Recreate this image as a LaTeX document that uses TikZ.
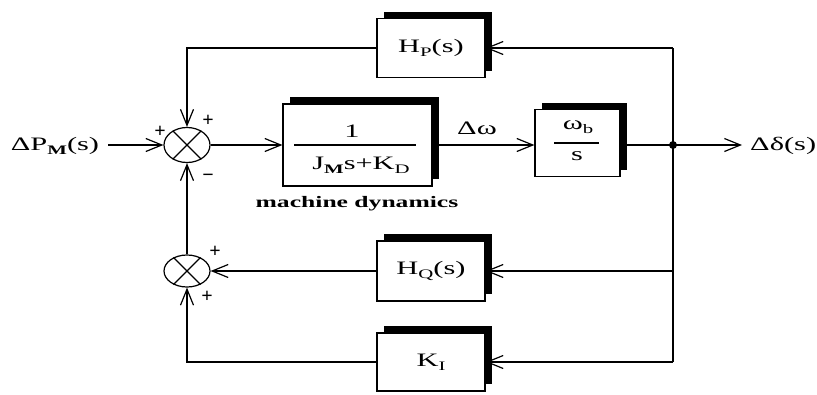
\documentclass[tikz,border=0pt]{standalone}
\usepackage{fontspec}
\setmainfont{Liberation Serif}
\newfontfamily\dfont[FakeStretch=1.6]{Liberation Serif}
\usetikzlibrary{arrows.meta,shapes.geometric,shadows}
\newcommand\mysub[1]{\raisebox{-4pt}{\fontsize{13}{13}\selectfont #1}}
\begin{document}
\begin{tikzpicture}[x=1pt,y=-1pt,
  blk/.style={draw, line width=1.2pt, fill=white, inner sep=0pt,
    drop shadow={shadow xshift=7pt, shadow yshift=7pt, shadow scale=1, fill=black, opacity=1}},
  sumj/.style={draw, ellipse, line width=1.2pt, minimum width=46pt, minimum height=35pt, inner sep=0pt},
  arr/.style={line width=1.2pt, -{Straight Barb[length=16pt,width=13pt,line width=1.2pt]}},
  ln/.style={line width=1.2pt},
  txt/.style={font=\dfont\fontsize{19}{19}\selectfont, inner sep=0pt},
  sgn/.style={font=\fontsize{20}{20}\selectfont\bfseries, inner sep=0pt}]
\useasboundingbox (0,0) rectangle (817,394);

% blocks
\node[blk, minimum width=108pt, minimum height=59pt] (hp) at (431,48) {};
\node[txt] (hpt) at (hp.center) {H\mysub{P}(s)};
\node[blk, minimum width=149pt, minimum height=82pt] (mb) at (357.5,145) {};
\node[txt] (mbn) at (352,131) {1};
\node[txt] (mbd) at (361,165) {J\mysub{\bfseries M}s+K\mysub{D}};
\draw[ln] ([xshift=12pt]mb.west) -- ([xshift=-17pt]mb.east);
\node[blk, minimum width=85pt, minimum height=67pt] (wb) at (577.5,143) {};
\node[txt] (wbn) at (578,127) {ω\mysub{b}};
\node[txt] (wbd) at (577,156) {s};
\draw[ln] ([xshift=20pt]wb.west) -- ([xshift=-22pt]wb.east);
\node[blk, minimum width=108pt, minimum height=60pt] (hq) at (431,271) {};
\node[txt] (hqt) at (hq.center) {H\mysub{Q}(s)};
\node[blk, minimum width=108pt, minimum height=58pt] (ki) at (431,362) {};
\node[txt] (kit) at (ki.center) {K\mysub{I}};

% summing junctions
\node[sumj] (s1) at (187,145) {};
\draw[ln] (s1.45) -- (s1.225) (s1.135) -- (s1.315);
\node[sumj, minimum height=32pt] (s2) at (187,271) {};
\draw[ln] (s2.45) -- (s2.225) (s2.135) -- (s2.315);

% labels
\node[txt] (inl) at (55,146) {ΔP\mysub{\bfseries M}(s)};
\node[txt, anchor=west] (outl) at (750,146) {Δδ(s)};
\node[txt] (dw) at (477,128) {Δω};
\node[font=\dfont\fontsize{16}{16}\selectfont\bfseries, inner sep=0pt] (md) at (357,204) {machine dynamics};
\node[sgn] (p1) at (160,132) {+};
\node[sgn] (p2) at (208,121) {+};
\node[sgn] (m1) at (208,178) {−};
\node[sgn] (p3) at (215,252) {+};
\node[sgn] (p4) at (207,297) {+};

% coordinates
\coordinate (in) at (108,145);
\coordinate (dot) at (673,145);
\coordinate (out) at (742,145);
\coordinate (tr) at (673,48);
\coordinate (qr) at (673,271);
\coordinate (kr) at (673,362);

% connectors
\draw[arr] (in) -- (s1.west);
\draw[arr] (s1.east) -- (mb.west);
\draw[arr] (mb.east) -- (mb.east -| wb.west);
\draw[ln] (wb.east |- dot) -- (dot);
\draw[arr] (dot) -- (out);
\fill (dot) circle (4pt);
\draw[ln] (tr) -- (kr);
\draw[arr] (tr) -- (hp.east);
\draw[arr] (qr) -- (hq.east);
\draw[arr] (kr) -- (ki.east);
\draw[arr] (hp.west) -| (s1.north);
\draw[arr] (hq.west) -- (s2.east);
\draw[arr, line width=2pt] (ki.west) -| (s2.south);
\draw[arr] (s2.north) -- (s1.south);
\end{tikzpicture}
\end{document}
